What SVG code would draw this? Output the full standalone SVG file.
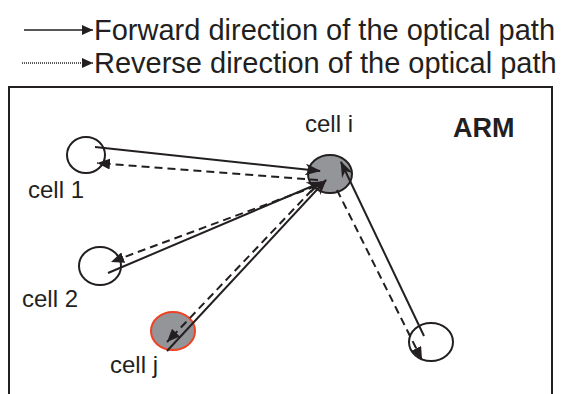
<svg xmlns="http://www.w3.org/2000/svg" width="562" height="394" viewBox="0 0 562 394">
<style>
.t{font-family:"Liberation Sans",Arial,sans-serif;fill:#231f20}
.lb{font-size:24px}
.ln{stroke:#231f20;fill:none;stroke-width:2}
.fw{stroke:#231f20;fill:none;stroke-width:2;marker-end:url(#fa)}
.rv{stroke:#231f20;fill:none;stroke-width:2;stroke-dasharray:8,5;marker-end:url(#ra)}
.cw{fill:#fff;stroke:#231f20;stroke-width:2}
.cg{fill:#939598;stroke:#231f20;stroke-width:2}
</style>
<defs>
<marker id="fa" viewBox="0 0 16 12" refX="15" refY="6" markerWidth="16" markerHeight="12" markerUnits="userSpaceOnUse" orient="auto">
<path d="M0,0 L16,6 L0,12 L5,6 z" fill="#231f20"/>
</marker>
<marker id="ra" viewBox="0 0 13 11" refX="13" refY="5.5" markerWidth="13" markerHeight="11" markerUnits="userSpaceOnUse" orient="auto">
<path d="M0,0 L13,5.5 L0,11 z" fill="#231f20"/>
</marker>
<marker id="la" viewBox="0 0 11 10" refX="11" refY="5" markerWidth="11" markerHeight="10" markerUnits="userSpaceOnUse" orient="auto">
<path d="M0,0 L11,5 L0,10 z" fill="#231f20"/>
</marker>
</defs>
<g id="legend">
<line x1="24" y1="30" x2="93" y2="30" stroke="#231f20" stroke-width="1.6" marker-end="url(#la)"/>
<text class="t" x="94" y="40" font-size="29">Forward direction of the optical path</text>
<line x1="22" y1="63" x2="93" y2="63" stroke="#231f20" stroke-width="1.6" stroke-dasharray="1,1" marker-end="url(#la)"/>
<text class="t" x="94" y="73" font-size="29">Reverse direction of the optical path</text>
</g>
<g id="frame">
<path d="M9,394 V87 H552 V394" class="ln"/>
<text class="t" x="453" y="137" font-size="27" font-weight="bold">ARM</text>
</g>
<g id="cell-1">
<ellipse cx="86" cy="155" rx="19" ry="18" class="cw"/>
<text class="t lb" x="28" y="198">cell 1</text>
</g>
<g id="cell-i">
<ellipse cx="330" cy="174" rx="22" ry="19" class="cg"/>
<text class="t lb" x="305" y="132">cell i</text>
</g>
<g id="cell-2">
<ellipse cx="100" cy="266" rx="21" ry="19" class="cw"/>
<text class="t lb" x="22" y="307">cell 2</text>
</g>
<g id="cell-j">
<ellipse cx="173" cy="331" rx="22" ry="19" fill="#939598" stroke="#ef4123" stroke-width="2"/>
<text class="t lb" x="110" y="373">cell j</text>
</g>
<g id="cell-k">
<ellipse cx="431" cy="342" rx="22" ry="19" class="cw"/>
</g>
<g id="connectors">
<line x1="95" y1="147" x2="320" y2="171" class="fw"/>
<line x1="318" y1="180" x2="97" y2="163" class="rv"/>
<line x1="108" y1="273" x2="322" y2="182" class="fw"/>
<line x1="316" y1="186" x2="111" y2="262" class="rv"/>
<line x1="167" y1="351" x2="326" y2="180" class="fw"/>
<line x1="312" y1="190" x2="167" y2="342" class="rv"/>
<line x1="424" y1="336" x2="341" y2="162" class="fw"/>
<line x1="337" y1="190" x2="422" y2="360" class="rv"/>
</g>
</svg>
